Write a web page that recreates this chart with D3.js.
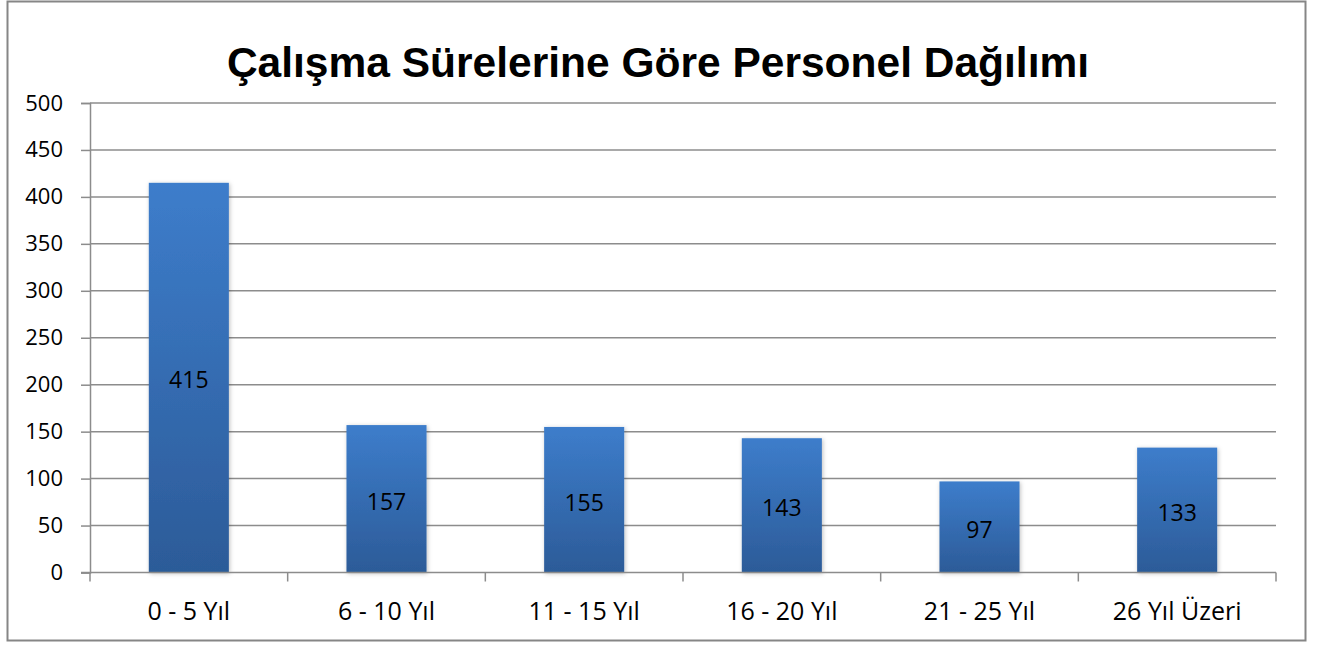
<!DOCTYPE html>
<html>
<head>
<meta charset="utf-8">
<script src="https://cdn.jsdelivr.net/npm/d3@7"></script>
<style>
  body { margin: 0; background: #fff; }
  text { font-family: "Open Sans", "Noto Sans", sans-serif; }
</style>
</head>
<body>
<div id="chart"></div>
<script>
// chart data
var categories = ["0 - 5 Yıl", "6 - 10 Yıl", "11 - 15 Yıl", "16 - 20 Yıl", "21 - 25 Yıl", "26 Yıl Üzeri"];
var values = [415, 157, 155, 143, 97, 133];
var yTicks = [0, 50, 100, 150, 200, 250, 300, 350, 400, 450, 500];
var title = "Çalışma Sürelerine Göre Personel Dağılımı";

var W = 1326, H = 645;
var margin = {top: 103, right: 50, bottom: 72.5, left: 90},
    width = W - margin.left - margin.right,
    height = H - margin.top - margin.bottom;

var svg = d3.select("#chart").append("svg")
    .attr("width", W)
    .attr("height", H);

// gradient for bars
var defs = svg.append("defs");
var grad = defs.append("linearGradient")
    .attr("id", "barGrad")
    .attr("x1", 0).attr("y1", 0).attr("x2", 0).attr("y2", 1);
grad.append("stop").attr("offset", "0%").attr("stop-color", "#3d7dcb");
grad.append("stop").attr("offset", "100%").attr("stop-color", "#2c5b98");

var shadow = defs.append("filter").attr("id", "shadow")
    .attr("x", "-20%").attr("y", "-5%").attr("width", "140%").attr("height", "115%");
shadow.append("feDropShadow")
    .attr("dx", 1).attr("dy", 1).attr("stdDeviation", 2)
    .attr("flood-color", "#000").attr("flood-opacity", 0.25);

// outer border
svg.append("rect")
    .attr("x", 7.5).attr("y", 1.5)
    .attr("width", 1298).attr("height", 639)
    .attr("fill", "none")
    .attr("stroke", "#868686")
    .attr("stroke-width", 2);

// title
svg.append("text")
    .attr("x", 658)
    .attr("y", 77)
    .attr("text-anchor", "middle")
    .style("font-family", "'Liberation Sans', Arial, sans-serif")
    .style("font-weight", "bold")
    .style("font-size", "42.5px")
    .text(title);

var g = svg.append("g")
    .attr("transform", "translate(" + margin.left + "," + margin.top + ")");

var x = d3.scaleBand()
    .domain(categories)
    .range([0, width])
    .paddingInner(0.595)
    .paddingOuter(0.2975);

var xOuter = d3.scaleBand()
    .domain(categories)
    .range([0, width]);

var y = d3.scaleLinear()
    .domain([0, 500])
    .range([height, 0]);

// gridlines
g.append("g")
    .selectAll("line")
    .data(yTicks.filter(function(d) { return d > 0; }))
    .enter().append("line")
    .attr("x1", 0).attr("x2", width)
    .attr("y1", function(d) { return y(d); })
    .attr("y2", function(d) { return y(d); })
    .attr("stroke", "#8c8c8c")
    .attr("stroke-width", 1.5);

// Y axis
var yAxis = g.append("g")
    .call(d3.axisLeft(y).tickValues(yTicks).tickSize(9).tickPadding(18));
yAxis.select(".domain").attr("stroke", "#8c8c8c").attr("stroke-width", 1.5);
yAxis.selectAll(".tick line").attr("stroke", "#8c8c8c").attr("stroke-width", 1.5);
yAxis.selectAll(".tick text")
    .attr("fill", "#000")
    .style("font-size", "22px")
    .style("font-family", "'Open Sans', sans-serif");

// bars
g.selectAll("rect.bar")
    .data(values)
    .enter().append("rect")
    .attr("class", "bar")
    .attr("x", function(d, i) { return x(categories[i]); })
    .attr("y", function(d) { return y(d); })
    .attr("width", x.bandwidth())
    .attr("height", function(d) { return height - y(d); })
    .attr("fill", "url(#barGrad)")
    .attr("filter", "url(#shadow)");

// X axis (ticks at category boundaries)
var xAxisG = g.append("g")
    .attr("transform", "translate(0," + height + ")");
xAxisG.append("line")
    .attr("x1", -9).attr("x2", width)
    .attr("y1", 0).attr("y2", 0)
    .attr("stroke", "#8c8c8c").attr("stroke-width", 1.5);
var bounds = categories.map(function(c) { return xOuter(c); }).concat([width]);
xAxisG.selectAll("line.tk")
    .data(bounds)
    .enter().append("line")
    .attr("class", "tk")
    .attr("x1", function(d) { return d; })
    .attr("x2", function(d) { return d; })
    .attr("y1", 0).attr("y2", 9)
    .attr("stroke", "#8c8c8c").attr("stroke-width", 1.5);
xAxisG.selectAll("text")
    .data(categories)
    .enter().append("text")
    .attr("x", function(d) { return xOuter(d) + xOuter.bandwidth() / 2; })
    .attr("y", 47)
    .attr("text-anchor", "middle")
    .style("font-size", "25px")
    .attr("fill", "#000")
    .text(function(d) { return d; });

// value labels
g.selectAll("text.val")
    .data(values)
    .enter().append("text")
    .attr("class", "val")
    .attr("x", function(d, i) { return x(categories[i]) + x.bandwidth() / 2; })
    .attr("y", function(d) { return y(d / 2); })
    .attr("dy", "0.47em")
    .attr("text-anchor", "middle")
    .style("font-size", "23px")
    .attr("fill", "#000")
    .text(function(d) { return d; });
</script>
</body>
</html>
